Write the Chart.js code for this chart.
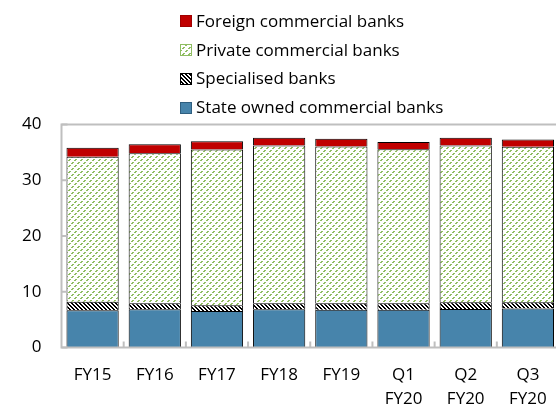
<!DOCTYPE html>
<html>
<head>
<meta charset="utf-8">
<script src="https://cdn.jsdelivr.net/npm/chart.js@4.4.1/dist/chart.umd.min.js"></script>
<style>
  body { margin: 0; overflow: hidden; background: #fff; font-family: "Open Sans", sans-serif; }
  #wrap { position: relative; width: 560px; height: 406px; }
  #legend { position: absolute; left: 180px; top: 7px; font-size: 17px; color: #000; }
  #legend div { height: 28.7px; line-height: 28.7px; white-space: nowrap; }
  #legend canvas { vertical-align: middle; margin-right: 4px; position: relative; top: -1px; }
</style>
</head>
<body>
<div id="wrap">
  <canvas id="myChart" width="560" height="406"></canvas>
  <div id="legend"></div>
</div>
<script>
// data
var labels = ["FY15", "FY16", "FY17", "FY18", "FY19", ["Q1", "FY20"], ["Q2", "FY20"], ["Q3", "FY20"]];
var stateOwned  = [6.7, 6.85, 6.55, 6.85, 6.75, 6.75, 6.9, 7.0];
var specialised = [1.5, 1.1, 1.05, 1.1, 1.2, 1.2, 1.2, 1.1];
var privateBanks = [26.0, 26.9, 27.9, 28.3, 28.1, 27.6, 28.15, 27.9];
var foreignBanks = [1.62, 1.62, 1.49, 1.36, 1.38, 1.31, 1.36, 1.33];
var yTicks = [0, 10, 20, 30, 40];

var fontFam = '"Open Sans", sans-serif';

function makeTile(size, bg, fg, test) {
  var c = document.createElement("canvas");
  c.width = size; c.height = size;
  var g = c.getContext("2d");
  g.fillStyle = bg; g.fillRect(0, 0, size, size);
  g.fillStyle = fg;
  for (var y = 0; y < size; y++) {
    for (var x = 0; x < size; x++) {
      if (test(x, y)) g.fillRect(x, y, 1, 1);
    }
  }
  return c;
}

var greenTile = makeTile(6, "#ffffff", "#8fbd62", function (x, y) {
  return (x + y) % 6 < 2 && y % 3 != 2;
});
var bwTile = makeTile(4, "#ffffff", "#000000", function (x, y) {
  return ((x - y) % 4 + 4) % 4 < 2;
});

var ctx = document.getElementById("myChart").getContext("2d");
var greenPat = ctx.createPattern(greenTile, "repeat");
var bwPat = ctx.createPattern(bwTile, "repeat");

var series = [
  { label: "State owned commercial banks", data: stateOwned, fill: "#4784ab", edge: "#2f5f80" },
  { label: "Specialised banks", data: specialised, fill: bwPat, tile: bwTile, edge: "#000000" },
  { label: "Private commercial banks", data: privateBanks, fill: greenPat, tile: greenTile, edge: "#8fbd62" },
  { label: "Foreign commercial banks", data: foreignBanks, fill: "#c00000", edge: "#a00000" }
];

// legend, top item first
var legend = document.getElementById("legend");
series.slice().reverse().forEach(function (s) {
  var row = document.createElement("div");
  var sw = document.createElement("canvas");
  sw.width = 12; sw.height = 12;
  var g = sw.getContext("2d");
  g.fillStyle = s.tile ? g.createPattern(s.tile, "repeat") : s.fill;
  g.fillRect(0, 0, 12, 12);
  g.strokeStyle = s.edge; g.lineWidth = 1;
  g.strokeRect(0.5, 0.5, 11, 11);
  row.appendChild(sw);
  row.appendChild(document.createTextNode(s.label));
  legend.appendChild(row);
});

var frame = {
  id: "frame",
  afterDatasetsDraw: function (chart) {
    var c = chart.ctx, a = chart.chartArea;
    var xs = chart.scales.x, ys = chart.scales.y;
    c.save();
    c.strokeStyle = "#bfbfbf";
    c.lineWidth = 2;
    c.strokeRect(a.left, a.top, a.right - a.left, a.bottom - a.top);
    c.beginPath();
    yTicks.forEach(function (v) {
      var p = ys.getPixelForValue(v);
      c.moveTo(a.left, p); c.lineTo(a.left + 6, p);
    });
    for (var i = 1; i < labels.length; i++) {
      var p = (xs.getPixelForValue(i - 1) + xs.getPixelForValue(i)) / 2;
      c.moveTo(p, a.bottom); c.lineTo(p, a.bottom - 6);
    }
    c.stroke();
    c.restore();
  }
};

new Chart("myChart", {
  type: "bar",
  data: {
    labels: labels,
    datasets: series.map(function (s) {
      return {
        label: s.label,
        data: s.data,
        backgroundColor: s.fill,
        borderColor: "#000000",
        borderWidth: 1,
        barPercentage: 0.84,
        categoryPercentage: 1
      };
    })
  },
  options: {
    responsive: false,
    animation: false,
    layout: { padding: { top: 124.5, right: 1, left: 0, bottom: 0 } },
    plugins: { legend: { display: false }, tooltip: { enabled: false } },
    scales: {
      x: {
        stacked: true,
        grid: { display: false, drawTicks: false },
        border: { display: false },
        ticks: { font: { family: fontFam, size: 17, lineHeight: 1.38 }, color: "#000", padding: 16, maxRotation: 0, autoSkip: false },
        afterFit: function (s) { s.height = 58.5; s.paddingLeft = 0; s.paddingRight = 0; }
      },
      y: {
        stacked: true,
        min: 0, max: 40,
        grid: { display: false, drawTicks: false },
        border: { display: false },
        ticks: { stepSize: 10, font: { family: fontFam, size: 17 }, color: "#000", padding: 20 },
        afterFit: function (s) { s.width = 61.5; s.paddingTop = 0; s.paddingBottom = 0; }
      }
    }
  },
  plugins: [frame]
});
</script>
</body>
</html>
